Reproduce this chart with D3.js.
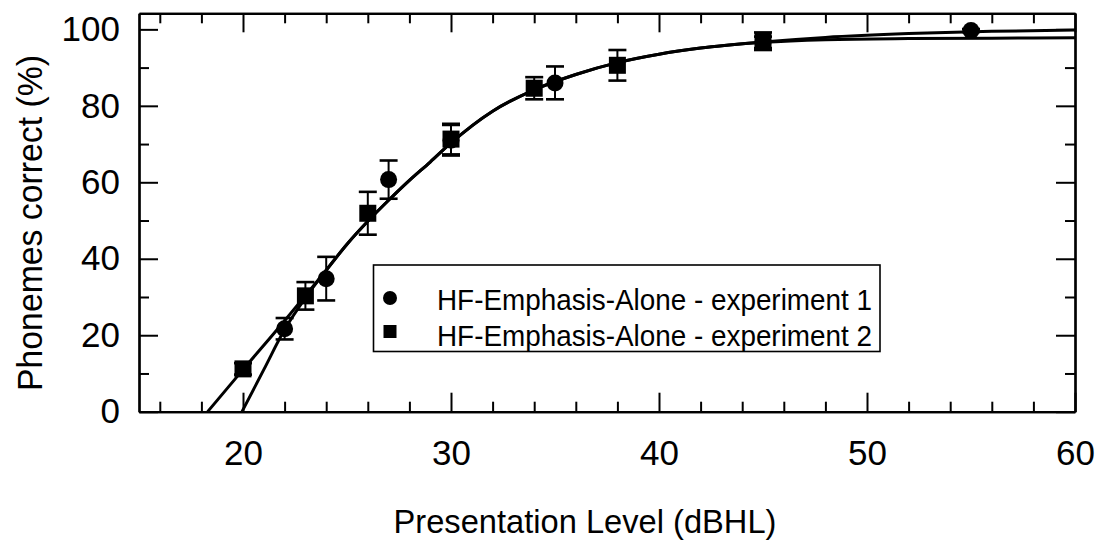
<!DOCTYPE html>
<html>
<head>
<meta charset="utf-8">
<script src="https://cdn.jsdelivr.net/npm/d3@7"></script>
<style>
  html, body { margin: 0; padding: 0; background: #fff; }
  svg { display: block; }
  text { font-family: "Liberation Sans", Arial, Helvetica, sans-serif; fill: #000; }
</style>
</head>
<body>
<svg id="chart" width="1106" height="541"></svg>
<script>
// Experiment 1 (circles): presentation level, mean score, error half-width
const exp1Level = [22, 24, 27, 30, 35, 45, 55];
const exp1Score = [21.7, 34.8, 60.7, 71.0, 86.0, 96.6, 99.7];
const exp1Err   = [2.8, 5.7, 5.0, 4.0, 4.3, 1.5, 0.4];

// Experiment 2 (squares)
const exp2Level = [20, 23, 26, 30, 34, 38, 45];
const exp2Score = [11.2, 30.3, 51.9, 71.3, 84.6, 90.6, 96.9];
const exp2Err   = [1.5, 3.6, 5.6, 4.0, 2.9, 4.0, 2.3];

// Fitted performance-intensity curves
const fit1Level = [19.95, 21, 22, 23, 24, 25, 26, 27, 28, 29, 30, 32, 34, 36, 38, 40, 42, 45, 48, 52, 56, 60];
const fit1Score = [0, 11, 21.5, 29.8, 37, 43.8, 49.8, 55.3, 60.5, 65.3, 70.3, 78.6, 84.2, 88.2, 91.3, 93.5, 95.1, 96.7, 97.9, 98.9, 99.5, 99.8];
const fit2Level = [18.3, 20, 22, 23, 24, 25, 26, 27, 28, 29, 30, 32, 34, 36, 38, 40, 42, 45, 48, 52, 56, 60];
const fit2Score = [0, 11, 23.8, 30.4, 37, 43.8, 49.8, 55.3, 60.5, 65.3, 70.3, 78.6, 84.2, 88.2, 91.3, 93.5, 95.1, 96.6, 97.3, 97.6, 97.7, 97.8];

// Axis ticks
const xMajor = [20, 30, 40, 50, 60];
const xMinor = [16, 18, 22, 24, 26, 28, 32, 34, 36, 38, 42, 44, 46, 48, 52, 54, 56, 58];
const yMajor = [0, 20, 40, 60, 80, 100];
const yMinor = [10, 30, 50, 70, 90];

const legendLabels = ["HF-Emphasis-Alone - experiment 1", "HF-Emphasis-Alone - experiment 2"];

const svg = d3.select("#chart");
const plotLeft = 139, plotRight = 1075, plotTop = 13.3, plotBottom = 411.7;

const x = d3.scaleLinear().domain([15, 60]).range([plotLeft, plotRight]);
const y = d3.scaleLinear().domain([0, 104.2]).range([plotBottom, plotTop]);

// ---- axes (ticks point inward on all four sides) ----
function styleAxis(g) {
  g.attr("font-family", null).attr("font-size", null);
  g.select(".domain").attr("stroke", "#000").attr("stroke-width", 2.2);
  g.selectAll(".tick line").attr("stroke", "#000").attr("stroke-width", 2);
  g.selectAll(".tick text").style("font-size", "35px").attr("fill", "#000");
}

svg.append("g").attr("transform", `translate(0,${plotBottom})`)
  .call(d3.axisBottom(x).tickValues(xMinor).tickSize(-10).tickSizeOuter(0).tickFormat(""))
  .call(styleAxis);
svg.append("g").attr("transform", `translate(0,${plotBottom})`)
  .call(d3.axisBottom(x).tickValues(xMajor).tickSize(-19).tickSizeOuter(0).tickPadding(28.5).tickFormat(d3.format("d")))
  .call(styleAxis);

svg.append("g").attr("transform", `translate(0,${plotTop})`)
  .call(d3.axisTop(x).tickValues(xMinor).tickSize(-10).tickSizeOuter(0).tickFormat(""))
  .call(styleAxis);
svg.append("g").attr("transform", `translate(0,${plotTop})`)
  .call(d3.axisTop(x).tickValues(xMajor).tickSize(-19).tickSizeOuter(0).tickFormat(""))
  .call(styleAxis);

svg.append("g").attr("transform", `translate(${plotLeft},0)`)
  .call(d3.axisLeft(y).tickValues(yMinor).tickSize(-10).tickSizeOuter(0).tickFormat(""))
  .call(styleAxis);
svg.append("g").attr("transform", `translate(${plotLeft},0)`)
  .call(d3.axisLeft(y).tickValues(yMajor).tickSize(-19).tickSizeOuter(0).tickPadding(19).tickFormat(d3.format("d")))
  .call(styleAxis);

svg.append("g").attr("transform", `translate(${plotRight},0)`)
  .call(d3.axisRight(y).tickValues(yMinor).tickSize(-10).tickSizeOuter(0).tickFormat(""))
  .call(styleAxis);
svg.append("g").attr("transform", `translate(${plotRight},0)`)
  .call(d3.axisRight(y).tickValues(yMajor).tickSize(-19).tickSizeOuter(0).tickFormat(""))
  .call(styleAxis);

// ---- fitted curves ----
const line = d3.line().x(d => x(d[0])).y(d => y(d[1])).curve(d3.curveMonotoneX);
const plot = svg.append("g");
[[fit1Level, fit1Score], [fit2Level, fit2Score]].forEach(([lv, sc]) => {
  plot.append("path")
    .datum(lv.map((v, i) => [v, sc[i]]))
    .attr("d", line)
    .attr("fill", "none")
    .attr("stroke", "#000")
    .attr("stroke-width", 3);
});

// ---- error bars ----
const capHalf = 9;
function errorBars(levels, scores, errs) {
  const g = plot.append("g").attr("stroke", "#000");
  levels.forEach((lv, i) => {
    const cx = x(lv), hi = y(scores[i] + errs[i]), lo = y(scores[i] - errs[i]);
    g.append("line").attr("x1", cx).attr("x2", cx).attr("y1", hi).attr("y2", lo).attr("stroke-width", 2);
    g.append("line").attr("x1", cx - capHalf).attr("x2", cx + capHalf).attr("y1", hi).attr("y2", hi).attr("stroke-width", 2.6);
    g.append("line").attr("x1", cx - capHalf).attr("x2", cx + capHalf).attr("y1", lo).attr("y2", lo).attr("stroke-width", 2.6);
  });
}
errorBars(exp1Level, exp1Score, exp1Err);
errorBars(exp2Level, exp2Score, exp2Err);

// ---- markers ----
plot.append("g").selectAll("circle")
  .data(exp1Level.map((v, i) => [v, exp1Score[i]]))
  .join("circle")
  .attr("cx", d => x(d[0])).attr("cy", d => y(d[1]))
  .attr("r", 8.5).attr("fill", "#000");

const sq = 17;
plot.append("g").selectAll("rect")
  .data(exp2Level.map((v, i) => [v, exp2Score[i]]))
  .join("rect")
  .attr("x", d => x(d[0]) - sq / 2).attr("y", d => y(d[1]) - sq / 2)
  .attr("width", sq).attr("height", sq).attr("fill", "#000");

// ---- legend ----
const lg = svg.append("g");
lg.append("rect")
  .attr("x", 373.5).attr("y", 265).attr("width", 506.5).attr("height", 86.5)
  .attr("fill", "#fff").attr("stroke", "#000").attr("stroke-width", 1.6);
lg.append("circle").attr("cx", 390).attr("cy", 298).attr("r", 7).attr("fill", "#000");
lg.append("rect").attr("x", 383.5).attr("y", 325).attr("width", 13).attr("height", 13).attr("fill", "#000");
legendLabels.forEach((t, i) => {
  lg.append("text")
    .attr("x", 437).attr("y", 310 + i * 35.5)
    .attr("textLength", 435).attr("lengthAdjust", "spacingAndGlyphs")
    .style("font-size", "30px")
    .text(t);
});

// ---- axis titles ----
svg.append("text")
  .attr("x", 585).attr("y", 533)
  .attr("text-anchor", "middle")
  .attr("textLength", 383).attr("lengthAdjust", "spacingAndGlyphs")
  .style("font-size", "34px")
  .text("Presentation Level (dBHL)");

svg.append("text")
  .attr("transform", "translate(42,223) rotate(-90)")
  .attr("text-anchor", "middle")
  .attr("textLength", 336).attr("lengthAdjust", "spacingAndGlyphs")
  .style("font-size", "35px")
  .text("Phonemes correct (%)");
</script>
</body>
</html>
